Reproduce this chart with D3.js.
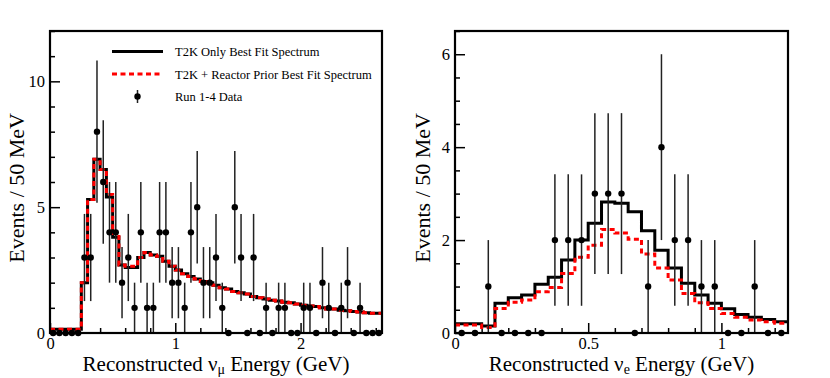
<!DOCTYPE html>
<html>
<head>
<meta charset="utf-8">
<script src="https://cdn.jsdelivr.net/npm/d3@7"></script>
<style>
  body { margin: 0; background: #fff; }
  svg { display: block; font-family: "Liberation Serif", "Times New Roman", serif; }
</style>
</head>
<body>
<svg id="chart" width="830" height="378"></svg>
<script>
// bins are 50 MeV wide
const binWidth = 0.05;

// nu_mu sample, 0 - 2.65 GeV
const numuData = [0,0,0,0,0, 3,3,8,6,4, 4,2,3,1,4, 1,1,4,4,2, 2,1,4,5,2, 2,3,1,0,5,
  3,0,3,0,1, 0,1,1,0,0, 1,1,0,2,1, 0,1,2,0,1, 0,0,0];
const numuT2K = [0.15,0.15,0.15,0.15,0.15, 2.0,5.3,6.9,6.5,5.4, 3.8,2.7,2.6,2.6,3.0,
  3.2,3.1,3.05,2.85,2.65, 2.5,2.35,2.25,2.15,2.05, 2.0,1.9,1.8,1.75,1.65,
  1.6,1.55,1.45,1.4,1.35, 1.3,1.27,1.22,1.2,1.15, 1.1,1.07,1.05,1.0,0.95,
  0.95,0.9,0.88,0.85,0.83, 0.8,0.78,0.78];
const numuReactor = [0.15,0.15,0.15,0.15,0.15, 2.0,5.3,6.9,6.5,5.5, 3.95,2.7,2.65,2.65,3.0,
  3.2,3.1,3.05,2.85,2.65, 2.5,2.35,2.25,2.15,2.05, 2.0,1.9,1.8,1.75,1.65,
  1.6,1.55,1.45,1.4,1.35, 1.3,1.27,1.22,1.2,1.15, 1.1,1.07,1.05,1.0,0.95,
  0.95,0.9,0.88,0.85,0.83, 0.8,0.78,0.78];

// nu_e sample, 0 - 1.25 GeV
const nueData = [0,0,1,0,0, 0,0,2,2,2, 3,3,3,0,1, 4,2,2,1,1, 0,0,1,0,0];
const nueT2K = [0.2,0.2,0.15,0.64,0.76, 0.82,1.05,1.2,1.57,2.0, 2.36,2.82,2.79,2.61,2.2,
  1.78,1.4,1.07,0.82,0.64, 0.52,0.4,0.34,0.29,0.24];
const nueReactor = [0.17,0.17,0.12,0.53,0.66, 0.71,0.89,0.98,1.28,1.63, 1.89,2.23,2.15,2.02,1.7,
  1.4,1.14,0.85,0.65,0.53, 0.42,0.34,0.28,0.24,0.21];

const legendLabels = ["T2K Only Best Fit Spectrum", "T2K + Reactor Prior Best Fit Spectrum", "Run 1-4 Data"];

const svg = d3.select('#chart');

const panels = [
  { left: 50, right: 382, top: 31, bottom: 333, xMax: 2.65, yMax: 12,
    xMajor: [0, 1, 2], xMinorStep: 0.2, yMajor: [0, 5, 10], yMinorStep: 1,
    data: numuData, t2k: numuT2K, reactor: numuReactor, flavour: "\u03bc", titleX: 24, legend: true },
  { left: 455, right: 788, top: 31, bottom: 333, xMax: 1.25, yMax: 6.5,
    xMajor: [0, 0.5, 1], xMinorStep: 0.1, yMajor: [0, 2, 4, 6], yMinorStep: 0.5,
    data: nueData, t2k: nueT2K, reactor: nueReactor, flavour: "e", titleX: 430, legend: false }
];

const drawPanel = (p, idx) => {
  const x = d3.scaleLinear().domain([0, p.xMax]).range([p.left, p.right]);
  const y = d3.scaleLinear().domain([0, p.yMax]).range([p.bottom, p.top]);
  const g = svg.append('g');

  svg.append('clipPath').attr('id', `clip${idx}`)
    .append('rect').attr('x', p.left).attr('y', p.top)
    .attr('width', p.right - p.left).attr('height', p.bottom - p.top);

  const minorX = d3.range(0, p.xMax + 1e-9, p.xMinorStep).filter(v => !p.xMajor.some(m => Math.abs(m - v) < 1e-9));
  const minorY = d3.range(0, p.yMax + 1e-9, p.yMinorStep).filter(v => !p.yMajor.some(m => Math.abs(m - v) < 1e-9));

  // axes, ticks pointing inward
  g.append('g').attr('transform', `translate(0,${p.bottom})`)
    .call(d3.axisBottom(x).tickValues(p.xMajor).tickSize(-10).tickPadding(4).tickFormat(d3.format('')));
  g.append('g').attr('transform', `translate(0,${p.bottom})`)
    .call(d3.axisBottom(x).tickValues(minorX).tickSize(-5).tickFormat(''));
  g.append('g').attr('transform', `translate(${p.left},0)`)
    .call(d3.axisLeft(y).tickValues(p.yMajor).tickSize(-10).tickPadding(5).tickFormat(d3.format('')));
  g.append('g').attr('transform', `translate(${p.left},0)`)
    .call(d3.axisLeft(y).tickValues(minorY).tickSize(-5).tickFormat(''));
  g.selectAll('.domain').remove();
  g.selectAll('.tick line').attr('stroke', '#000').attr('stroke-width', 1.5);
  g.selectAll('.tick text').attr('font-size', 16.5).attr('fill', '#000')
    .attr('font-family', '"Liberation Serif", serif');

  // histograms
  const edges = d3.range(p.t2k.length).map(i => i * binWidth);
  const step = d3.line().curve(d3.curveStepAfter).x(d => x(d[0])).y(d => y(d[1]));
  const histPts = vals => edges.map((e, i) => [e, vals[i]]).concat([[p.xMax, vals[vals.length - 1]]]);

  const hist = g.append('g').attr('clip-path', `url(#clip${idx})`);
  hist.append('path').attr('d', step(histPts(p.t2k)))
    .attr('fill', 'none').attr('stroke', '#000').attr('stroke-width', 3);
  hist.append('path').attr('d', step(histPts(p.reactor)))
    .attr('fill', 'none').attr('stroke', '#f00').attr('stroke-width', 3)
    .attr('stroke-dasharray', '5,3.5');

  // data points with sqrt(N) errors
  const pts = p.data.map((n, i) => ({ e: (i + 0.5) * binWidth, n }));
  hist.selectAll('line.err').data(pts.filter(d => d.n > 0)).join('line')
    .attr('class', 'err')
    .attr('x1', d => x(d.e)).attr('x2', d => x(d.e))
    .attr('y1', d => y(d.n - Math.sqrt(d.n))).attr('y2', d => y(d.n + Math.sqrt(d.n)))
    .attr('stroke', '#222').attr('stroke-width', 1.5);
  g.selectAll('circle.pt').data(pts).join('circle')
    .attr('class', 'pt')
    .attr('cx', d => x(d.e)).attr('cy', d => y(d.n)).attr('r', 3.2).attr('fill', '#000');

  // frame
  g.append('rect').attr('x', p.left).attr('y', p.top)
    .attr('width', p.right - p.left).attr('height', p.bottom - p.top)
    .attr('fill', 'none').attr('stroke', '#000').attr('stroke-width', 2.2);

  // titles
  const xt = g.append('text').attr('x', (p.left + p.right) / 2).attr('y', 371)
    .attr('text-anchor', 'middle').attr('font-size', 21).attr('fill', '#000');
  xt.append('tspan').text('Reconstructed \u03bd');
  xt.append('tspan').attr('font-size', 14).attr('dy', 3).text(p.flavour);
  xt.append('tspan').attr('dy', -3).text(' Energy (GeV)');

  g.append('text').attr('transform', `translate(${p.titleX},113) rotate(-90)`)
    .attr('text-anchor', 'end').attr('font-size', 22).attr('fill', '#000')
    .text('Events / 50 MeV');

  if (p.legend) {
    const lg = g.append('g');
    const rows = [51.5, 74, 96.5];
    lg.append('line').attr('x1', 112).attr('x2', 163).attr('y1', rows[0]).attr('y2', rows[0])
      .attr('stroke', '#000').attr('stroke-width', 3);
    lg.append('line').attr('x1', 112).attr('x2', 163).attr('y1', rows[1]).attr('y2', rows[1])
      .attr('stroke', '#f00').attr('stroke-width', 3).attr('stroke-dasharray', '5,3.5');
    lg.append('line').attr('x1', 137.5).attr('x2', 137.5).attr('y1', rows[2] - 6.5).attr('y2', rows[2] + 6.5)
      .attr('stroke', '#222').attr('stroke-width', 1.5);
    lg.append('circle').attr('cx', 137.5).attr('cy', rows[2]).attr('r', 3.2).attr('fill', '#000');
    lg.selectAll('text').data(legendLabels).join('text')
      .attr('x', 175).attr('y', (d, i) => rows[i] + 4.5)
      .attr('font-size', 12.5).attr('fill', '#000').text(d => d);
  }
};

panels.forEach(drawPanel);
</script>
</body>
</html>
